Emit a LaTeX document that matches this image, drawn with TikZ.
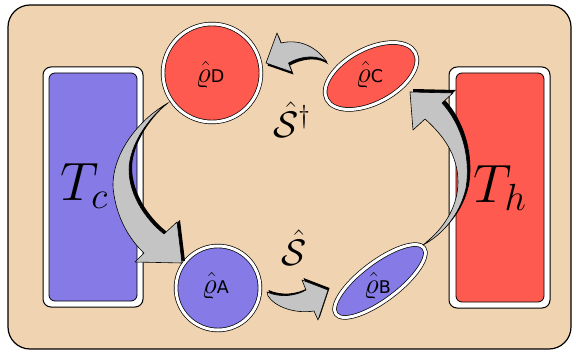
\documentclass[tikz,border=0pt]{standalone}
\usepackage{fix-cm}
\usepackage{fontspec}
\newfontfamily\djsans{DejaVu Sans}
\usetikzlibrary{shapes.geometric}
\definecolor{bg}{HTML}{F0D3B0}
\definecolor{coldc}{HTML}{857AE6}
\definecolor{hotc}{HTML}{FF5A4F}
\definecolor{agray}{HTML}{C4C4C4}
\newcommand\rholab[1]{{\fontsize{29}{31}\selectfont$\hat{\varrho}$}{\djsans\fontsize{17.5}{20}\selectfont #1}}
\newcommand\arrLeft[1]{\path[#1] (168,103) .. controls (130,125) and (108,165) .. (114,195) .. controls (118,220) and (130,240) .. (144,253) -- (135,262) -- (182,263) -- (177,222) -- (164,234) .. controls (140,215) and (125,185) .. (130,160) .. controls (135,135) and (155,112) .. (168,103) -- cycle;}
\newcommand\arrRight[1]{\path[#1] (423,245) .. controls (440,232) and (458,210) .. (458,182) .. controls (458,155) and (443,135) .. (425,119) -- (413,130) -- (410,92) -- (453,93) -- (442,103) .. controls (462,125) and (471,158) .. (466,188) .. controls (460,215) and (442,235) .. (423,245) -- cycle;}
\newcommand\arrTop[1]{\path[#1] (327,62) .. controls (315,45) and (298,39) .. (281,43) -- (277,33) -- (266,63) -- (292,72) -- (288.5,63) .. controls (303,55) and (318,55) .. (327,62) -- cycle;}
\newcommand\arrBottom[1]{\path[#1] (267,292) .. controls (280,298) and (296,296) .. (306,290) -- (302,280) -- (328,290) -- (318,320) -- (314,311) .. controls (295,314) and (275,307) .. (268,296) -- cycle;}
\begin{document}
\begin{tikzpicture}[x=1pt,y=-1pt,line join=round,
  ring/.style={draw=black,line width=0.7pt,double distance=3pt,inner sep=0pt},
  lab/.style={inner sep=0pt,anchor=base west},
  big/.style={font=\fontsize{54}{60}\selectfont},
  opl/.style={font=\fontsize{37}{40}\selectfont,inner sep=0pt,anchor=base west},
  arrfill/.style={fill=agray,draw=black,line width=0.6pt}]
\useasboundingbox (0,0) rectangle (576,353);
\draw[fill=bg,line width=1.2pt,rounded corners=22pt] (8,5) rectangle (571,349);
% baths
\draw[fill=white,rounded corners=8pt,line width=1pt] (43,67) rectangle (143,307);
\draw[fill=coldc,rounded corners=6pt,line width=0.8pt] (49,73) rectangle (137,301);
\draw[fill=white,rounded corners=8pt,line width=1pt] (449,67) rectangle (550,308);
\draw[fill=hotc,rounded corners=6pt,line width=0.8pt] (456,73) rectangle (544,302);
\node[big] (Tc) at (84,186) {$T_c$};
\node[big] (Th) at (500,188) {$T_h$};
% states
\node[ring,circle,fill=hotc,double=white,minimum size=98pt] (D) at (212,73) {};
\node[ring,ellipse,fill=hotc,double=white,minimum width=100pt,minimum height=54pt,rotate=28] (C) at (371,76) {};
\node[ring,circle,fill=coldc,double=white,minimum size=84pt] (A) at (218,288) {};
\node[ring,ellipse,fill=coldc,double=white,minimum width=110pt,minimum height=38pt,rotate=37] (B) at (380,281) {};
\node[lab] (lD) at (196,82) {\rholab{D}};
\node[lab] (lC) at (356,82) {\rholab{C}};
\node[lab] (lA) at (202,293) {\rholab{A}};
\node[lab] (lB) at (364,293) {\rholab{B}};
% operators
\node[opl] (Sd) at (273,137) {$\hat{\mathcal{S}}^{\dagger}$};
\node[opl] (S) at (281,265) {$\hat{\mathcal{S}}$};
% arrows
\arrLeft{fill=black,shift={(3,-2)}}
\arrLeft{arrfill}
\arrRight{fill=black,shift={(3,-3)}}
\arrRight{arrfill}
\arrTop{fill=black,shift={(1.5,2.5)}}
\arrTop{arrfill}
\arrBottom{fill=black,shift={(1.5,-2)}}
\arrBottom{arrfill}
\end{tikzpicture}
\end{document}
